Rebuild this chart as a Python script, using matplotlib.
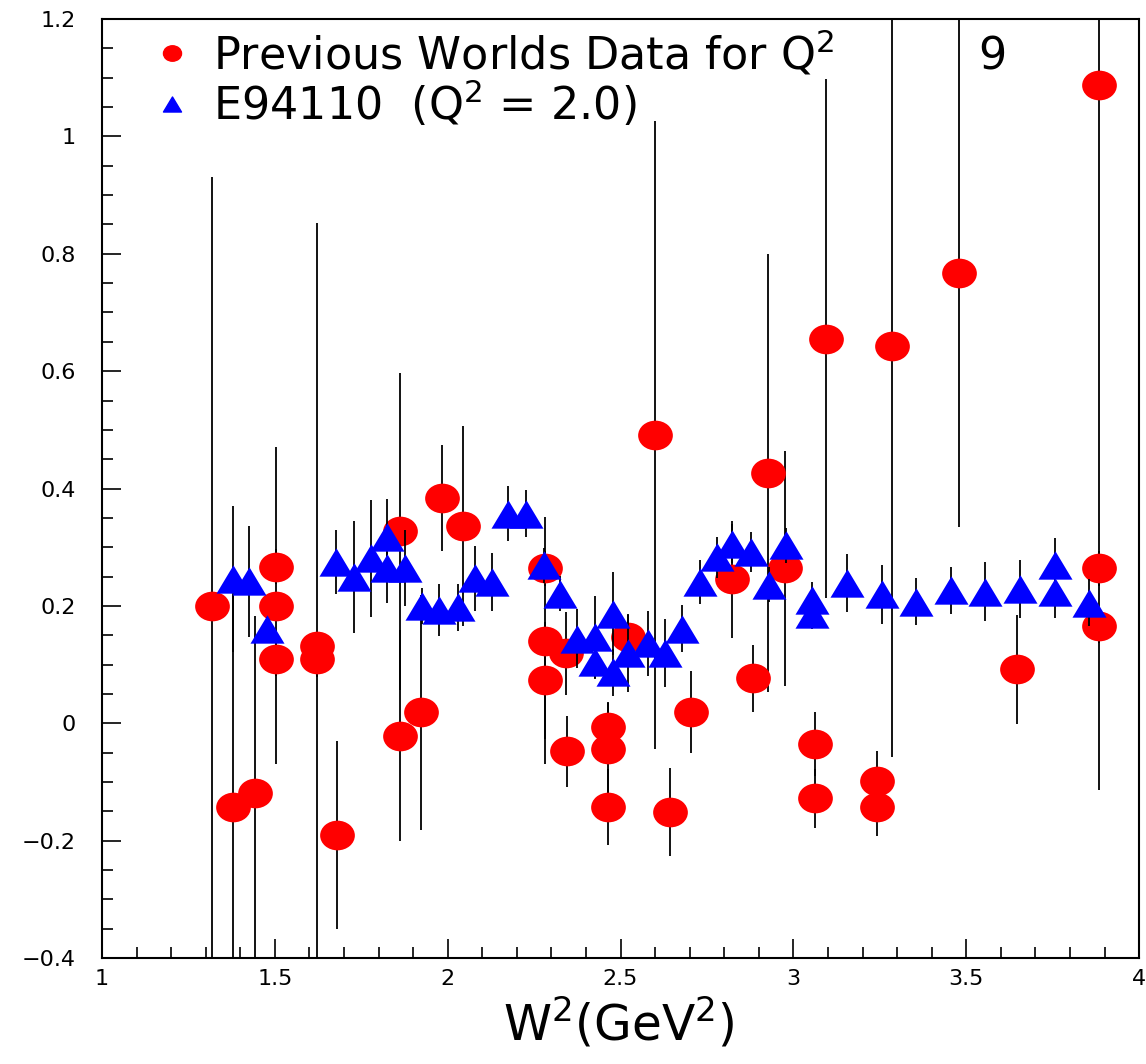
import matplotlib
matplotlib.use("Agg")
import matplotlib.pyplot as plt
from matplotlib.lines import Line2D
from matplotlib.path import Path
from matplotlib.transforms import Affine2D
from matplotlib.ticker import MultipleLocator

plt.rcParams['font.family'] = ['DejaVu Sans']
plt.rcParams['mathtext.fontset'] = 'dejavusans'

# previous world data (red circles): W^2, value, error
prev_w2 = [1.318, 1.380, 1.443, 1.502, 1.502, 1.502, 1.623, 1.623, 1.681, 1.862,
           1.862, 1.922, 1.983, 2.045, 2.281, 2.281, 2.281, 2.341, 2.344, 2.463,
           2.463, 2.463, 2.522, 2.600, 2.643, 2.703, 2.823, 2.884, 2.926, 2.976,
           3.063, 3.063, 3.094, 3.243, 3.243, 3.284, 3.479, 3.646, 3.884, 3.884,
           3.884]
prev_val = [0.200, -0.142, -0.118, 0.267, 0.200, 0.110, 0.132, 0.109, -0.191, 0.327,
            -0.021, 0.019, 0.384, 0.336, 0.264, 0.141, 0.073, 0.119, -0.048, -0.006,
            -0.043, -0.143, 0.147, 0.491, -0.151, 0.019, 0.245, 0.077, 0.426, 0.264,
            -0.035, -0.128, 0.655, -0.098, -0.142, 0.643, 0.767, 0.092, 1.087, 0.264,
            0.166]
prev_err = [0.73, 0.36, 0.30, 0.03, 0.27, 0.03, 0.72, 0.03, 0.16, 0.27,
            0.18, 0.20, 0.09, 0.17, 0.03, 0.21, 0.10, 0.07, 0.06, 0.04,
            0.08, 0.065, 0.04, 0.535, 0.075, 0.07, 0.10, 0.057, 0.373, 0.20,
            0.055, 0.05, 0.442, 0.05, 0.05, 0.70, 0.433, 0.093, 1.20, 0.03,
            0.03]

# E94110 (blue triangles)
e94_w2 = [1.380, 1.426, 1.476, 1.676, 1.729, 1.777, 1.825, 1.825, 1.876, 1.925,
          1.976, 2.031, 2.079, 2.127, 2.175, 2.226, 2.279, 2.325, 2.373, 2.426,
          2.426, 2.477, 2.477, 2.522, 2.580, 2.629, 2.677, 2.730, 2.778, 2.823,
          2.877, 2.930, 2.980, 3.055, 3.055, 3.154, 3.255, 3.354, 3.455, 3.554,
          3.655, 3.757, 3.757, 3.855]
e94_val = [0.246, 0.242, 0.161, 0.275, 0.249, 0.281, 0.317, 0.265, 0.265, 0.200,
           0.193, 0.198, 0.247, 0.241, 0.357, 0.357, 0.269, 0.221, 0.144, 0.147,
           0.105, 0.187, 0.087, 0.119, 0.136, 0.119, 0.161, 0.241, 0.283, 0.306,
           0.292, 0.236, 0.303, 0.210, 0.187, 0.239, 0.220, 0.207, 0.227, 0.224,
           0.229, 0.269, 0.224, 0.205]
e94_err = [0.125, 0.095, 0.02, 0.055, 0.095, 0.10, 0.065, 0.06, 0.065, 0.03,
           0.045, 0.04, 0.055, 0.05, 0.047, 0.04, 0.03, 0.03, 0.05, 0.07,
           0.03, 0.07, 0.04, 0.065, 0.055, 0.058, 0.04, 0.037, 0.035, 0.033,
           0.034, 0.03, 0.03, 0.03, 0.026, 0.05, 0.05, 0.04, 0.04, 0.05,
           0.05, 0.047, 0.044, 0.04]

# the original picture is a bit stretched sideways, so are its markers
oval = Path.unit_circle().transformed(Affine2D().scale(1.17, 1.0))
tri = Path([(0, 1), (-1.2, -1), (1.2, -1), (0, 1)],
           [Path.MOVETO, Path.LINETO, Path.LINETO, Path.CLOSEPOLY])

fig = plt.figure(figsize=(11.46, 10.64), dpi=100)
ax = fig.add_axes([0.089, 0.0996, 0.905, 0.8825])

ax.errorbar(prev_w2, prev_val, yerr=prev_err, fmt='none', ecolor='black', elinewidth=1.3)
ax.plot(prev_w2, prev_val, linestyle='none', marker=oval, color='red',
        markersize=25, markeredgewidth=0)
ax.errorbar(e94_w2, e94_val, yerr=e94_err, fmt='none', ecolor='black', elinewidth=1.3)
ax.plot(e94_w2, e94_val, linestyle='none', marker=tri, color='blue',
        markersize=24.5, markeredgewidth=0)

ax.set_xlim(1, 4)
ax.set_ylim(-0.4, 1.2)

ax.xaxis.set_minor_locator(MultipleLocator(0.1))
ax.yaxis.set_minor_locator(MultipleLocator(0.05))

xt = [1, 1.5, 2, 2.5, 3, 3.5, 4]
ax.set_xticks(xt)
ax.set_xticklabels(['1', '1.5', '2', '2.5', '3', '3.5', '4'])
yt = [-0.4, -0.2, 0, 0.2, 0.4, 0.6, 0.8, 1.0, 1.2]
ax.set_yticks(yt)
ax.set_yticklabels(['\u22120.4', '\u22120.2', '0', '0.2', '0.4', '0.6', '0.8', '1', '1.2'])

ax.tick_params(which='both', direction='in', top=False, right=False, width=1.2)
ax.tick_params(which='major', length=14, labelsize=16)
ax.tick_params(axis='x', which='major', pad=8)
ax.tick_params(axis='y', which='major', pad=19)
ax.tick_params(which='minor', length=8)
for s in ax.spines.values():
    s.set_linewidth(1.5)

fig.text(0.540, 0.022, 'W$^2$(GeV$^2$)', fontsize=35, ha='center', va='baseline')

handles = [
    Line2D([], [], marker=oval, color='red', linestyle='none', markersize=13),
    Line2D([], [], marker=tri, color='blue', linestyle='none', markersize=13),
]
labels = ['Previous Worlds Data for Q$^2$          9', 'E94110  (Q$^2$ = 2.0)']
ax.legend(handles, labels, loc='upper left', bbox_to_anchor=(0.057, 0.99),
          frameon=False, fontsize=32, handlelength=0.5, handletextpad=0.67,
          labelspacing=0.0, borderaxespad=0, borderpad=0)

fig.savefig('out.png', dpi=100)
